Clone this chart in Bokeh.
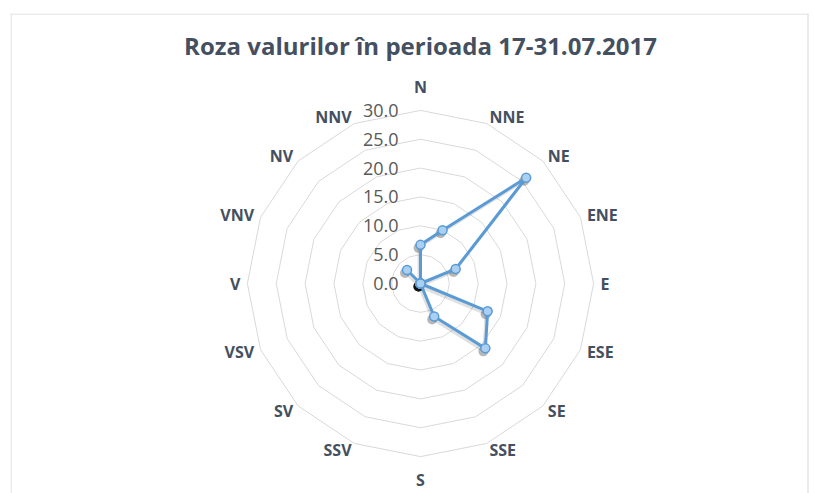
import numpy as np
from bokeh.plotting import figure
from bokeh.models import Range1d, ColumnDataSource, Label, Span
from bokeh.core.properties import value
from bokeh.embed import file_html
from bokeh.resources import INLINE

# ---- data ----
title_text = "Roza valurilor în perioada 17-31.07.2017"
directions = ["N", "NNE", "NE", "ENE", "E", "ESE", "SE", "SSE",
              "S", "SSV", "SV", "VSV", "V", "VNV", "NV", "NNV"]
wave_values = [6.7, 10.0, 25.9, 6.6, 0.0, 12.6, 15.9, 6.2,
               0.0, 0.0, 0.0, 0.0, 0.0, 0.0, 3.3, 0.0]
ring_values = [5, 10, 15, 20, 25, 30]
tick_values = [0, 5, 10, 15, 20, 25, 30]
tick_labels = ["0.0", "5.0", "10.0", "15.0", "20.0", "25.0", "30.0"]

# ---- geometry ----
S = 5.77            # pixels per unit
W, H = 809, 493
LB, TB = 10, 13
FW, FH = W - LB, H - TB
CX, CY = 410, 270   # centre in frame pixels

n = len(directions)
theta = np.radians(np.arange(n) * 360.0 / n)
sx, cy = np.sin(theta), np.cos(theta)

x0, x1 = -CX / S, (FW - CX) / S
y0, y1 = -(FH - CY) / S, CY / S
p = figure(width=W, height=H, output_backend="svg", toolbar_location=None,
           x_axis_type=None, y_axis_type=None,
           x_range=Range1d(x0, x1), y_range=Range1d(y0, y1),
           min_border_left=LB, min_border_right=0,
           min_border_top=TB, min_border_bottom=0)
p.outline_line_color = None
p.background_fill_color = "white"
p.border_fill_color = "white"

# chart-area border (left, right, top)
for loc, dim in [(x0 + 0.5 / S, "height"), (x1 - 1.5 / S, "height"), (y1 - 0.5 / S, "width")]:
    p.add_layout(Span(location=loc, dimension=dim, line_color="#d9d9d9", line_width=1))

# grid rings
xs = [list(np.append(r * sx, r * sx[0])) for r in ring_values]
ys = [list(np.append(r * cy, r * cy[0])) for r in ring_values]
p.multi_line(xs, ys, line_color="#d9d9d9", line_width=1)

# series
vals = np.array(wave_values)
px = vals * sx
py = vals * cy
lx = np.append(px, px[0])
ly = np.append(py, py[0])
# soft shadow
p.line(lx - 1.5 / S, ly - 2.5 / S, line_color="black", line_width=3, line_alpha=0.12)
p.scatter(px - 2 / S, py - 3 / S, size=10, fill_color="black", fill_alpha=0.28,
          line_color=None)
p.line(lx, ly, line_color="#5b9bd5", line_width=3)
p.scatter(px, py, size=9, fill_color="#a9cff3", line_color="#5b9bd5", line_width=1.5)

# value (radial axis) labels
p.text(x=[0] * len(tick_values), y=tick_values, text=tick_labels,
       x_offset=-22, text_align="right", text_baseline="middle",
       text_font=value("Open Sans"), text_font_size="18px", text_color="#595959")

# direction labels
R = ring_values[-1]
groups = {}
for i, d in enumerate(directions):
    s, c = sx[i], cy[i]
    if abs(s) < 0.01:
        align = "center"
        base = "bottom" if c > 0 else "top"
        dist = 12
    else:
        align = "left" if s > 0 else "right"
        base = "middle"
        dist = 7
    key = (align, base)
    g = groups.setdefault(key, {"x": [], "y": [], "t": [], "xo": [], "yo": []})
    g["x"].append(R * s)
    g["y"].append(R * c)
    g["t"].append(d)
    g["xo"].append(dist * s)
    g["yo"].append(-dist * c)

for (align, base), g in groups.items():
    src = ColumnDataSource(dict(x=g["x"], y=g["y"], t=g["t"], xo=g["xo"], yo=g["yo"]))
    p.text(x="x", y="y", text="t", x_offset="xo", y_offset="yo", source=src,
           text_align=align, text_baseline=base,
           text_font=value("Open Sans"), text_font_style="bold",
           text_font_size="16px", text_color="#44505f")

# title
p.add_layout(Label(x=0, y=(CY - 32) / S, text=title_text, text_align="center",
                   text_baseline="middle", text_font="Open Sans",
                   text_font_style="bold", text_font_size="24px",
                   text_color="#44505f"))

open("out.html", "w").write(file_html(p, INLINE))
